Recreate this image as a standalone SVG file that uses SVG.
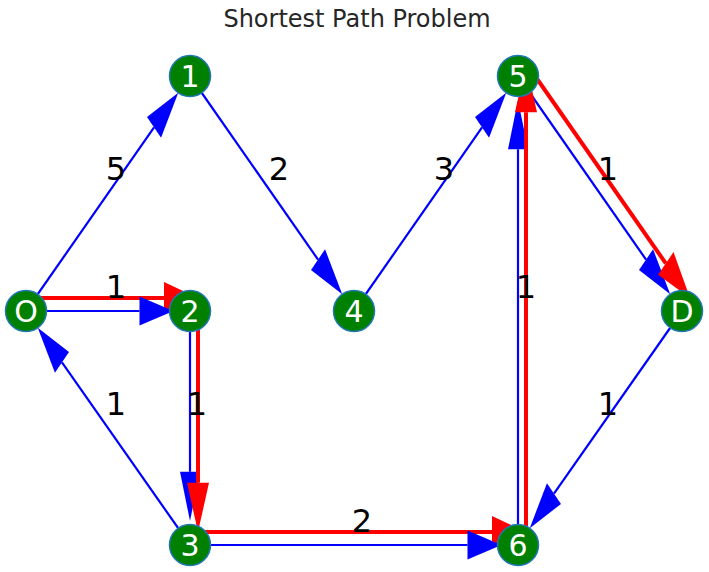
<svg xmlns="http://www.w3.org/2000/svg" width="709" height="572" viewBox="0 0 709 572">
<style>
.bl{stroke:#0000ff;stroke-width:2.2;fill:none}
.bh{fill:#0000ff;stroke:none}
.rl{stroke:#ff0000;stroke-width:4;fill:none}
.rh{fill:#ff0000;stroke:none}
.node circle{fill:#008000;stroke:#1f77b4;stroke-width:1.5}
.node text{fill:#ffffff;font-family:"DejaVu Sans",sans-serif;font-size:30px;text-anchor:middle}
.lbl{fill:#000000;font-family:"DejaVu Sans",sans-serif;font-size:32px;text-anchor:middle}
.title{fill:#262626;font-family:"DejaVu Sans",sans-serif;font-size:24px;text-anchor:middle}
</style>
<rect width="709" height="572" fill="#ffffff"/>
<text class="title" x="357" y="27">Shortest Path Problem</text>
<g id="connectors">
  <line class="rl" x1="34" y1="298" x2="164" y2="298"/><polygon class="rh" points="198,298 164,282 164,314"/>
  <line class="rl" x1="198" y1="532" x2="492" y2="532"/><polygon class="rh" points="526,532 492,516 492,548"/>
  <line class="bl" x1="26" y1="311" x2="154.04" y2="127.4"/><polygon class="bh" points="178.25,92.79 161.06,137.72 147.02,117.08"/>
  <line class="bl" x1="26" y1="311" x2="139.5" y2="311"/><polygon class="bh" points="173.5,311 139.5,296.5 139.5,325.5"/>
  <line class="bl" x1="190" y1="76" x2="318.04" y2="259.6"/><polygon class="bh" points="342.25,294.21 311.02,269.92 325.06,249.28"/>
  <line class="bl" x1="354" y1="311" x2="482.04" y2="127.4"/><polygon class="bh" points="506.25,92.79 489.06,137.72 475.02,117.08"/>
  <line class="bl" x1="190" y1="311" x2="190" y2="471.8"/><polygon class="bh" points="190,521.1 180,471.8 200,471.8"/>
  <line class="bl" x1="190" y1="545" x2="467.5" y2="545"/><polygon class="bh" points="501.5,545 467.5,530.5 467.5,559.5"/>
  <line class="bl" x1="518" y1="545" x2="518" y2="149.2"/><polygon class="bh" points="518,99.9 508,149.2 528,149.2"/>
  <line class="bl" x1="518" y1="76" x2="646.04" y2="259.6"/><polygon class="bh" points="670.25,294.21 639.02,269.92 653.06,249.28"/>
  <line class="bl" x1="682" y1="311" x2="553.96" y2="493.6"/><polygon class="bh" points="529.75,528.21 546.94,483.28 560.98,503.92"/>
  <line class="bl" x1="190" y1="545" x2="61.96" y2="362.4"/><polygon class="bh" points="37.75,327.79 68.98,352.08 54.94,372.72"/>
  <line class="rl" x1="198" y1="298" x2="198" y2="482.7"/><polygon class="rh" points="198,532 187,482.7 209,482.7"/>
  <line class="rl" x1="526" y1="532" x2="526" y2="112.3"/><polygon class="rh" points="526,63 515,112.3 537,112.3"/>
  <line class="rl" x1="526" y1="63" x2="665.8" y2="263.4"/><polygon class="rh" points="690,298 658.07,274.74 673.51,252.04"/>
</g>
<g id="edge-labels">
  <text class="lbl" x="116" y="180.2">5</text>
  <text class="lbl" x="116" y="297.7">1</text>
  <text class="lbl" x="279" y="180.2">2</text>
  <text class="lbl" x="444" y="180.2">3</text>
  <text class="lbl" x="608" y="180.2">1</text>
  <text class="lbl" x="608" y="414.7">1</text>
  <text class="lbl" x="116" y="414.7">1</text>
  <text class="lbl" x="197" y="414.7">1</text>
  <text class="lbl" x="362" y="531.7">2</text>
  <text class="lbl" x="526" y="297.7">1</text>
</g>
<g id="node-O" class="node"><circle cx="26" cy="311" r="20.5"/><text x="26" y="322">O</text></g>
<g id="node-1" class="node"><circle cx="190" cy="76" r="20.5"/><text x="190" y="87">1</text></g>
<g id="node-2" class="node"><circle cx="190" cy="311" r="20.5"/><text x="190" y="322">2</text></g>
<g id="node-3" class="node"><circle cx="190" cy="545" r="20.5"/><text x="190" y="556">3</text></g>
<g id="node-4" class="node"><circle cx="354" cy="311" r="20.5"/><text x="354" y="322">4</text></g>
<g id="node-5" class="node"><circle cx="518" cy="76" r="20.5"/><text x="518" y="87">5</text></g>
<g id="node-6" class="node"><circle cx="518" cy="545" r="20.5"/><text x="518" y="556">6</text></g>
<g id="node-D" class="node"><circle cx="682" cy="311" r="20.5"/><text x="682" y="322">D</text></g>
</svg>
